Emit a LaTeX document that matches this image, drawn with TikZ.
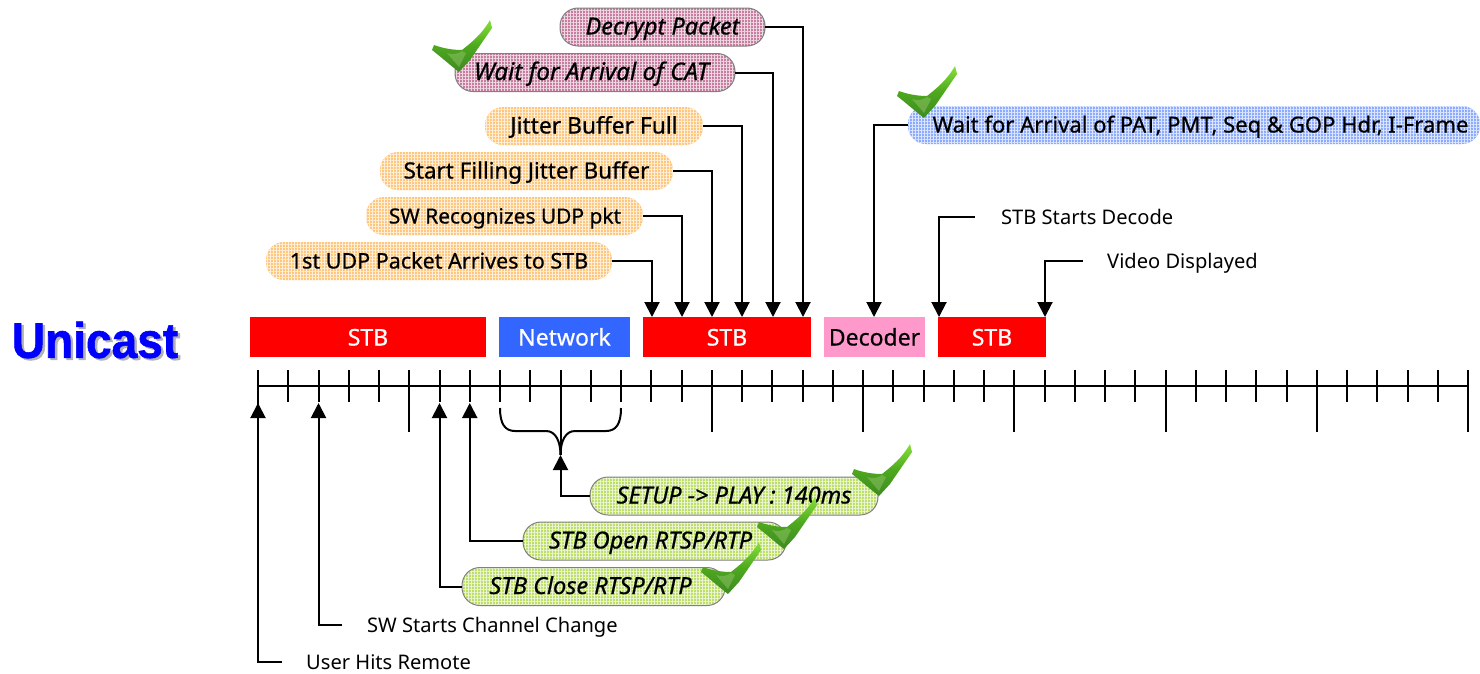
\documentclass[tikz,border=0pt]{standalone}
\usepackage{fontspec}
\usetikzlibrary{arrows.meta,patterns.meta,shadings}
\setmainfont{Noto Sans}
\newfontfamily\boldish[FakeBold=0.6]{Noto Sans}
\newfontfamily\titlefont[FakeBold=1.2]{Liberation Sans Bold}
\newcommand{\fz}[1]{\fontsize{#1}{26}\selectfont}
\definecolor{pinkb}{HTML}{C87C9F}
\definecolor{orangeb}{HTML}{FFC67E}
\definecolor{blueb}{HTML}{8CAAFF}
\definecolor{greenb}{HTML}{BDDE68}
\definecolor{chkhi}{HTML}{86E03A}
\definecolor{chkmid}{HTML}{4DA81E}
\definecolor{chklo}{HTML}{3E8A22}
\definecolor{chkglow}{HTML}{8CBF62}
\tikzset{x=1pt,y=-1pt,
 mesh/.style={preaction={fill=#1},postaction={pattern={Lines[distance=3pt,line width=.6pt,angle=0]},pattern color=white!70!#1},postaction={pattern={Lines[distance=3pt,line width=.6pt,angle=90]},pattern color=white!70!#1}},
 pill/.style={rectangle,rounded corners=18pt,inner sep=0pt,text=black,text height=20pt,text depth=5pt,font=\boldish\fontsize{22.8}{26}\selectfont,minimum height=38pt},
 pinkpill/.style={pill,mesh=pinkb,postaction={draw=black!50,line width=1pt},font=\boldish\itshape\fontsize{23.5}{26}\selectfont},
 orangepill/.style={pill,mesh=orangeb},
 bluepill/.style={pill,mesh=blueb},
 greenpill/.style={pill,mesh=greenb,postaction={draw=black!50,line width=1pt},font=\boldish\itshape\fontsize{23.5}{26}\selectfont},
 bar/.style={rectangle,inner sep=0pt,minimum height=40pt,text height=22pt,text depth=5pt,text=white,font=\boldish\fontsize{23}{26}\selectfont},
 lbl/.style={inner sep=0pt,anchor=west,text=black,text height=19pt,text depth=5pt,font=\fontsize{20.1}{24}\selectfont},
 conn/.style={line width=2pt,-{Triangle[length=15pt,width=15pt]}},
 axisline/.style={line width=2pt},
 tk/.style={line width=2pt},
 brc/.style={line width=2pt},
 checkmark/.pic={
  \shade[top color=chkhi,bottom color=chklo,middle color=chkmid,draw=none]
   (58,0) .. controls (50,14) and (40,22) .. (30,30) .. controls (20,30) and (10,28) .. (2,25) -- (0,30)
   .. controls (9,37) and (18,45) .. (27,52) -- (38,40) -- (60,8) -- cycle;
  \fill[chkglow,opacity=.55] (15,33) .. controls (20,35) and (26,34) .. (30,31) -- (34,33) -- (27,47) -- cycle;
 }}
\begin{document}
\begin{tikzpicture}
\useasboundingbox (0,0) rectangle (1480,673);
% title
\node[inner sep=0pt,text=black!30,xscale=.98,yscale=1.06] at (97.5,342) {\titlefont\fontsize{47}{50}\selectfont Unicast};
\node[inner sep=0pt,text=blue,xscale=.98,yscale=1.06] (title) at (95,340) {\titlefont\fontsize{47}{50}\selectfont Unicast};
% bars
\node[bar,fill=red,minimum width=236pt] (b1) at (368,337) {STB};
\node[bar,fill={rgb,255:red,51;green,102;blue,255},minimum width=131pt] (b2) at (564.5,337) {Network};
\node[bar,fill=red,minimum width=168pt] (b3) at (727,337) {STB};
\node[bar,fill={rgb,255:red,255;green,153;blue,204},text=black,minimum width=101pt] (b4) at (874.5,337) {Decoder};
\node[bar,fill=red,minimum width=108pt] (b5) at (992,337) {STB};
% axis
\draw[axisline] (258,386) -- (1468,386);
\foreach \i in {0,...,40}{
  \pgfmathsetmacro{\xx}{258+30.25*\i}
  \pgfmathtruncatemacro{\rr}{mod(\i,5)}
  \ifnum\i=0 \draw[tk] (\xx,370) -- (\xx,405);
  \else\ifnum\rr=0 \draw[tk] (\xx,370) -- (\xx,432);
  \else \draw[tk] (\xx,370) -- (\xx,402); \fi\fi
}
% pills
\node[pinkpill,minimum width=205pt] (decrypt) at (662.5,27) {Decrypt Packet};
\node[pinkpill,minimum width=280pt] (cat) at (595,72.5) {\fz{24.2}\hspace*{-7pt}Wait for Arrival of CAT};
\node[orangepill,minimum width=218pt] (jitf) at (594,126) {Jitter Buffer Full};
\node[orangepill,minimum width=293pt] (jits) at (526.5,171) {\fz{22.4}Start Filling Jitter Buffer};
\node[orangepill,minimum width=277pt] (swr) at (504.5,216) {\fz{20.9}\hspace*{1pt}SW Recognizes UDP pkt};
\node[orangepill,minimum width=346pt] (first) at (439,261) {\fz{21.5}1st UDP Packet Arrives to STB};
\node[bluepill,minimum width=572pt] (waitpat) at (1194,125) {\fz{22.05}\hspace*{13pt}Wait for Arrival of PAT, PMT, Seq \& GOP Hdr, I-Frame};
\node[greenpill,minimum width=288pt] (setup) at (734,496) {SETUP -> PLAY : 140ms};
\node[greenpill,minimum width=263pt] (open) at (654.5,541) {\hspace*{-8pt}STB Open RTSP/RTP};
\node[greenpill,minimum width=263pt] (close) at (593.5,586.5) {\hspace*{-6pt}STB Close RTSP/RTP};
% free ends
\coordinate (t803) at (803,317); \coordinate (t773) at (773,317); \coordinate (t742) at (742,317);
\coordinate (t712) at (712,317); \coordinate (t682) at (682,317); \coordinate (t652) at (652,317);
\coordinate (t874) at (874,317); \coordinate (t939) at (939,317); \coordinate (t1045) at (1045,317);
\coordinate (u258) at (258,403); \coordinate (u319) at (318.5,403); \coordinate (u440) at (439.5,403);
\coordinate (u470) at (469.75,403); \coordinate (u561) at (560.5,455);
% top connectors
\draw[conn] (decrypt.east) -| (t803);
\draw[conn] (cat.east) -| (t773);
\draw[conn] (jitf.east) -| (t742);
\draw[conn] (jits.east) -| (t712);
\draw[conn] (swr.east) -| (t682);
\draw[conn] (first.east) -| (t652);
\draw[conn] (waitpat.west) -| (t874);
% labels
\node[lbl] (ssd) at (1001,217) {STB Starts Decode};
\node[lbl] (vd) at (1107,261) {Video Displayed};
\node[lbl] (swc) at (367,625) {SW Starts Channel Change};
\node[lbl] (uhr) at (306,662) {User Hits Remote};
\coordinate (ssdL) at (975,217); \coordinate (vdL) at (1083,261);
\coordinate (swcL) at (342,625); \coordinate (uhrL) at (282,662);
\draw[conn] (ssdL) -| (t939);
\draw[conn] (vdL) -| (t1045);
\draw[conn] (uhrL) -| (u258);
\draw[conn] (swcL) -| (u319);
\draw[conn] (close.west) -| (u440);
\draw[conn] (open.west) -| (u470);
\draw[conn] (setup.west) -| (u561);
% brace
\draw[brc] (500,408) .. controls (500,424) and (505,431) .. (515,431) -- (546,431) .. controls (556,431) and (560.5,442) .. (560.5,455);
\draw[brc] (621,408) .. controls (621,424) and (616,431) .. (606,431) -- (575,431) .. controls (565,431) and (560.5,442) .. (560.5,455);
\draw[tk] (560.5,402) -- (560.5,455);
% checks
\pic at (432,20) {checkmark};
\pic at (897,66) {checkmark};
\pic at (852,444) {checkmark};
\pic at (757,497) {checkmark};
\pic at (701,542) {checkmark};
\end{tikzpicture}
\end{document}
